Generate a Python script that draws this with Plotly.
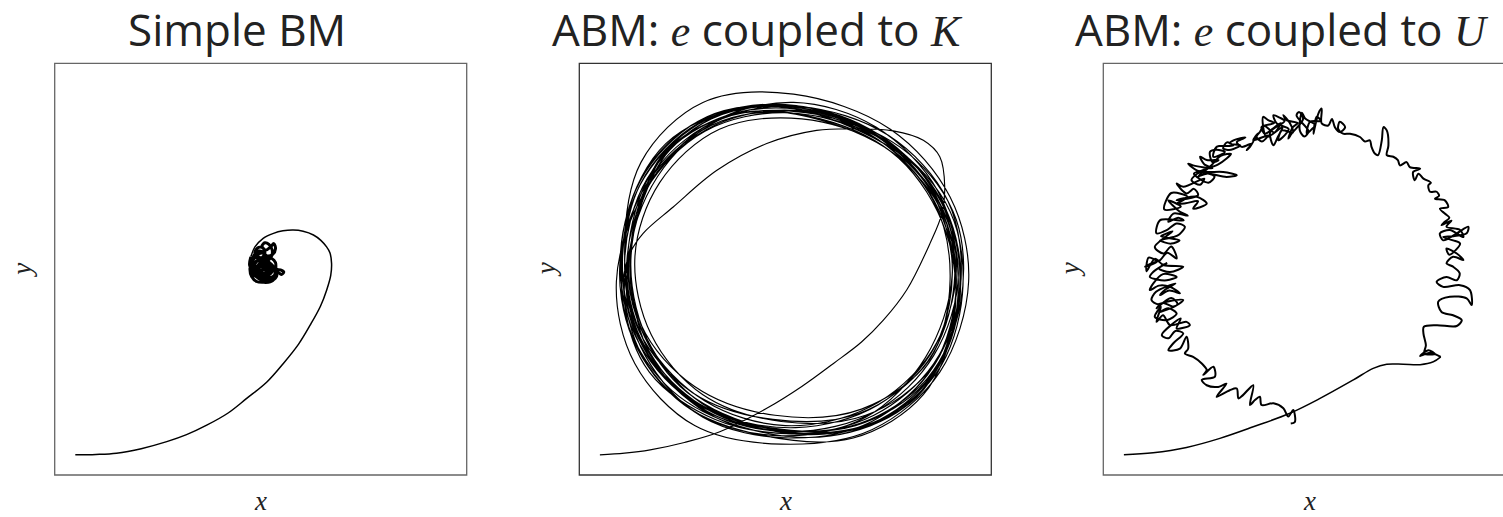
import plotly.graph_objects as go

# ---------------------------------------------------------------------------
# Trajectories (x, y) in arbitrary position units, box spans 0..100
# ---------------------------------------------------------------------------

# Simple Brownian motion: ballistic spiral settling into a diffusive blob
bm_spiral = [
    (5.0, 4.9), (10.0, 5.0), (15.0, 5.3), (21.0, 6.4), (27.2, 8.1), (32.0, 9.8),
    (36.9, 12.1), (42.0, 15.0), (46.6, 18.6), (51.5, 22.6), (55.5, 27.1),
    (59.2, 31.8), (62.0, 36.4), (64.5, 41.0), (66.0, 44.9), (67.0, 48.5),
    (67.2, 51.4), (66.8, 54.0), (66.0, 55.4), (64.6, 57.0), (62.8, 58.3),
    (60.3, 59.2), (57.9, 59.5), (55.4, 59.3), (53.1, 58.7), (50.6, 57.5),
    (48.6, 55.4), (47.6, 53.0),
]
bm_blob = [
    (47.6, 53.0), (47.3, 51.0), (48.2, 49.0), (49.8, 48.0), (51.5, 48.3), (52.6, 49.6),
    (52.2, 51.4), (50.6, 52.3), (49.0, 51.8), (48.3, 50.2), (49.1, 48.6), (50.8, 47.6),
    (52.4, 47.5), (53.4, 48.6), (53.2, 50.4), (51.8, 51.9), (50.0, 52.8), (48.3, 52.6),
    (47.5, 51.3), (47.9, 49.3), (49.4, 47.8), (51.0, 47.2), (52.0, 48.4), (51.2, 50.0),
    (49.7, 50.4), (48.8, 49.4), (49.6, 48.2), (51.2, 48.8), (51.6, 50.6), (50.5, 51.5),
    (49.0, 52.8), (48.6, 54.2), (49.5, 55.3), (50.7, 55.0), (51.0, 53.6), (50.2, 52.6),
    (51.3, 52.0), (52.5, 52.9), (52.8, 54.6), (52.0, 56.0), (51.0, 56.4), (50.3, 55.6),
    (51.2, 54.6), (52.3, 55.3), (53.2, 56.2), (53.6, 55.0), (52.9, 53.6), (51.6, 53.2),
    (50.3, 53.9), (49.2, 53.4), (48.0, 52.0), (47.4, 50.2), (47.8, 48.2), (49.0, 47.0),
    (50.6, 46.8), (52.3, 46.9), (53.5, 47.8), (54.0, 49.3), (55.0, 48.7), (55.6, 49.3),
    (54.8, 49.8), (53.8, 50.0), (53.6, 51.6), (52.7, 52.6), (51.4, 52.8), (50.0, 51.8),
    (49.3, 50.6), (49.8, 49.4), (50.9, 49.0), (51.9, 49.8), (51.4, 51.0), (50.2, 50.9),
    (49.5, 49.8), (50.3, 48.9), (51.8, 48.0), (53.0, 48.2), (53.6, 49.3), (52.8, 50.6),
    (51.5, 51.3), (50.0, 51.0), (48.7, 50.7), (47.9, 51.8), (48.4, 53.4), (49.6, 54.4),
    (50.8, 54.0), (50.6, 52.9), (49.6, 52.4), (48.6, 51.2), (48.9, 49.6), (50.1, 48.4),
    (51.6, 47.6), (53.0, 47.4), (53.9, 48.4), (53.4, 49.8), (52.2, 50.4), (51.0, 50.2),
    (50.0, 49.6), (49.4, 50.6), (50.2, 51.6), (51.6, 51.8), (52.4, 50.9), (51.9, 49.2),
    (50.4, 48.2), (48.9, 48.2), (48.0, 49.6), (48.2, 51.3), (49.4, 52.0), (50.8, 51.2),
    (50.7, 50.0), (49.7, 49.2), (49.0, 50.3), (49.9, 51.0), (51.0, 49.8), (52.3, 48.9),
    (52.9, 49.9), (52.0, 51.0), (50.4, 50.3),
]

# Active BM, e coupled to kinetic energy: approach, then many laps of a ring
abm_k_path = [
    (5.0, 4.9), (11.0, 5.3), (17.2, 6.1), (25.5, 7.9), (34.1, 10.5),
    (45.5, 16.2), (54.0, 21.5), (61.7, 27.1), (68.5, 32.3), (73.8, 37.6),
    (79.5, 45.0), (85.1, 56.2), (88.0, 63.5), (88.7, 70.0), (87.5, 77.3),
    (83.5, 81.3), (76.2, 83.6), (66.5, 84.1), (57.6, 83.7), (45.5, 80.5),
    (33.4, 74.0), (22.8, 65.1), (15.5, 58.7), (12.3, 53.8),
    (10.7, 46.5), (15.5, 28.5), (29.5, 14.5), (49.5, 9.5), (69.5, 14.0), (84.0, 28.5),
    (90.5, 48.5), (86.5, 68.0), (73.0, 82.5), (53.0, 89.5), (33.5, 86.0), (19.0, 72.5),
    (12.0, 52.0), (16.5, 32.5), (30.5, 18.0), (50.0, 12.0), (70.5, 16.5), (85.5, 30.0),
    (91.5, 49.5), (87.0, 69.0), (72.0, 84.5), (52.0, 90.5), (32.0, 85.5), (17.0, 70.5),
    (11.5, 50.0), (17.0, 30.0), (31.0, 15.5), (51.5, 10.5), (72.0, 15.5), (86.0, 29.0),
    (92.0, 49.0), (86.5, 67.5), (71.5, 82.0), (50.5, 88.0), (30.5, 83.5), (16.0, 69.0),
    (9.0, 47.0), (13.5, 27.0), (28.0, 12.0), (49.0, 7.5), (71.0, 11.0), (87.5, 25.0),
    (94.5, 47.0), (90.0, 67.5), (75.5, 84.0), (52.0, 92.5), (30.0, 90.5), (15.0, 76.0),
    (11.0, 54.0), (14.5, 35.0), (27.5, 20.0), (47.0, 13.5), (68.0, 15.0), (84.5, 27.5),
    (91.0, 46.5), (88.0, 66.0), (74.5, 81.0), (55.0, 88.0), (34.5, 86.5), (18.5, 74.0),
    (12.5, 55.5), (15.0, 36.5), (28.0, 21.5), (47.5, 14.5), (68.5, 16.0), (85.0, 28.0),
    (90.0, 47.5), (86.0, 66.5), (72.5, 81.5), (53.0, 88.5), (33.0, 85.0), (17.5, 71.5),
    (12.5, 51.0), (17.5, 31.0), (32.0, 16.0), (52.5, 11.5), (72.5, 17.0), (86.5, 31.5),
    (90.5, 51.5), (84.5, 70.5), (69.0, 84.5), (48.5, 90.0), (28.5, 85.0), (14.5, 70.0),
    (10.5, 49.5), (16.0, 29.0), (30.0, 14.0), (51.0, 9.0), (71.0, 13.0), (86.0, 26.5),
    (91.5, 46.0), (87.5, 65.0), (73.5, 80.0), (54.0, 86.5), (34.0, 84.0), (19.5, 71.0),
    (13.5, 53.0), (17.5, 34.0), (30.0, 19.5), (49.0, 13.0), (69.5, 14.5), (85.5, 26.0),
    (92.5, 45.5), (89.5, 66.5), (75.0, 82.5), (53.5, 89.5), (32.0, 86.5), (16.5, 72.0),
    (11.0, 51.5), (15.5, 31.5), (29.0, 16.5), (49.0, 10.5), (70.0, 12.0), (86.5, 24.5),
    (93.0, 44.0), (90.0, 64.0), (76.0, 80.0), (55.5, 87.5), (34.5, 86.0), (18.0, 73.0),
    (10.0, 53.0), (13.0, 33.0), (25.5, 17.0), (45.0, 9.5), (66.5, 9.0), (83.5, 19.5),
    (91.0, 38.0), (89.0, 59.0), (77.5, 77.0), (58.5, 86.5), (37.0, 87.5), (19.5, 76.5),
    (12.0, 56.0), (14.0, 38.0), (24.5, 21.5), (43.0, 12.0), (64.0, 10.5), (82.0, 19.0),
    (90.5, 36.5), (90.0, 57.0), (80.0, 75.0), (61.0, 85.5), (40.0, 88.0), (21.5, 79.0),
    (13.0, 58.0), (12.0, 40.0), (21.0, 23.5), (38.5, 13.0), (60.0, 10.0), (79.5, 17.0),
    (90.0, 33.5), (92.0, 53.5), (84.0, 72.5), (66.0, 84.5), (45.0, 89.5), (25.5, 83.0),
    (14.5, 64.0), (12.8, 45.0), (18.5, 27.0), (33.0, 14.0), (52.0, 10.0), (71.5, 14.5),
    (86.0, 27.0), (92.5, 45.0), (89.0, 64.5), (76.0, 80.0), (57.0, 88.5), (36.0, 88.5),
    (20.0, 77.5), (13.5, 60.0), (11.0, 42.0), (17.0, 25.0), (33.0, 13.5), (53.0, 10.0),
    (73.0, 13.5), (87.5, 27.0), (92.0, 47.0), (87.0, 67.0), (71.0, 83.0), (50.0, 90.0),
    (29.0, 86.0), (15.5, 73.0), (10.5, 55.0), (12.0, 36.0), (22.5, 20.5), (40.0, 11.5),
    (61.0, 9.5), (79.0, 16.5), (89.5, 31.0), (92.5, 50.0), (86.5, 69.0), (70.5, 84.0),
    (49.0, 90.0), (29.0, 85.5), (15.0, 71.0), (11.0, 52.0), (15.0, 33.0), (28.0, 18.0),
    (48.0, 11.0), (68.0, 12.5), (84.5, 23.5), (92.5, 41.5), (91.5, 62.0), (80.0, 78.0),
    (60.0, 87.5), (39.0, 89.0), (21.0, 80.5), (11.5, 63.0), (11.0, 44.0), (19.0, 26.0),
    (35.0, 14.0), (55.0, 10.5), (74.0, 15.0), (87.5, 29.0), (91.5, 48.0), (86.5, 67.0),
    (72.0, 82.5), (51.5, 89.5), (31.0, 87.0), (16.0, 73.5), (10.0, 54.0), (13.5, 34.0),
    (26.5, 18.5), (46.0, 11.5), (67.0, 12.0), (84.0, 22.5), (92.0, 40.5), (90.0, 61.5),
    (78.0, 78.5), (58.0, 88.0), (38.0, 88.0), (22.0, 79.0), (14.0, 63.0),
]

# Active BM, e coupled to potential energy: smooth approach, rough ring
abm_u_tail = [
    (5.0, 4.9), (12.1, 5.4), (20.2, 6.7), (28.3, 8.9), (36.4, 11.7), (45.3, 15.0),
    (52.6, 18.6), (60.7, 23.1), (65.5, 25.9), (68.8, 26.9), (72.8, 26.9),
    (76.9, 26.8), (80.1, 27.5), (81.9, 28.7),
]
abm_u_ring = [
    # right flank, climbing
    (81.9, 28.7), (79.3, 29.7), (76.9, 28.9), (78.9, 30.3), (80.5, 29.4), (77.9, 29.5),
    (78.3, 31.5), (77.7, 34.4), (77.8, 36.0), (80.9, 36.4), (85.8, 36.2), (87.0, 37.6),
    (84.9, 38.8), (82.1, 39.6), (81.3, 42.1), (84.1, 43.3), (88.2, 42.9), (89.4, 41.3),
    (89.0, 44.9), (86.6, 46.1), (82.5, 45.7), (80.9, 46.9), (83.3, 48.1), (85.8, 47.3),
    (86.5, 49.0), (84.9, 50.6), (83.3, 51.4), (84.9, 53.0), (87.4, 52.2), (85.8, 53.8),
    (83.3, 55.0), (84.0, 53.5), (86.6, 56.2), (84.9, 57.0), (82.5, 57.8), (85.0, 58.0),
    (88.2, 58.7), (88.6, 60.3), (85.8, 58.7), (82.5, 57.0), (81.7, 58.7), (84.1, 59.5),
    (87.4, 57.8), (86.6, 59.5), (83.3, 60.3), (84.5, 61.8), (82.1, 60.7), (82.9, 61.5),
    (84.0, 62.5), (82.9, 63.5), (81.7, 64.7), (83.7, 65.1), (82.9, 66.7), (80.5, 67.1),
    (81.5, 67.8), (80.9, 68.8), (79.3, 68.8), (78.9, 70.4), (79.5, 71.0), (77.7, 72.0),
    (76.5, 73.2), (75.6, 71.6), (75.2, 73.6), (76.9, 74.4), (74.4, 74.8), (73.6, 76.0),
    (72.0, 75.2), (71.5, 76.5), (70.4, 77.3), (68.8, 77.7), (69.2, 80.0), (68.8, 83.7),
    (68.0, 84.5), (67.6, 81.3), (66.7, 77.7), (65.9, 78.1), (65.1, 79.7), (64.7, 81.3),
    (63.5, 81.0), (62.3, 82.1), (59.9, 82.9), (58.2, 82.9),
    # crest, densely tangled
    (57.0, 84.1), (57.4, 85.8), (58.7, 84.5), (57.4, 83.3), (56.2, 84.5), (55.5, 86.5),
    (54.6, 84.9), (53.0, 85.4), (53.0, 89.0), (52.2, 87.8), (51.0, 82.9), (51.8, 87.0),
    (52.8, 86.0), (50.2, 85.8), (49.4, 82.9), (50.6, 84.0), (51.5, 85.0), (49.0, 86.6),
    (48.2, 88.0), (47.7, 83.7), (48.8, 82.2), (49.8, 83.5), (46.9, 87.3), (47.5, 88.2),
    (48.5, 86.5), (45.7, 82.9), (44.9, 81.7), (46.0, 84.5), (47.2, 85.5), (44.5, 86.2),
    (43.7, 87.4), (45.2, 85.6), (46.0, 83.2), (43.3, 83.7), (42.5, 81.3), (44.0, 82.5),
    (45.0, 84.0), (42.1, 85.4), (41.3, 87.4), (42.8, 86.8), (44.0, 86.0), (40.5, 83.3),
    (41.3, 80.1), (42.3, 82.0), (43.5, 84.5), (39.6, 82.1), (38.8, 87.0), (40.0, 86.2),
    (41.5, 85.5), (38.4, 84.5), (39.2, 82.9), (41.0, 84.0), (43.0, 85.5), (41.5, 83.2),
    (39.0, 84.8), (38.0, 83.3), (37.2, 82.1), (38.5, 81.0), (40.0, 82.5), (36.4, 81.3),
    (37.5, 83.0), (35.6, 79.7), (34.8, 78.9), (36.0, 80.5), (33.6, 79.7), (32.4, 80.9),
    (33.5, 81.5), (34.5, 82.0), (31.6, 81.3), (30.7, 80.5), (33.2, 80.1), (31.0, 79.0),
    (29.1, 79.3), (30.0, 80.8), (31.5, 80.0), (27.5, 79.7), (26.7, 77.3), (28.3, 77.7),
    (29.5, 78.5), (27.5, 79.0), (25.9, 78.5), (26.5, 76.0), (28.0, 76.5), (25.1, 76.5),
    (23.5, 77.3), (24.5, 75.5), (26.5, 74.5), (21.8, 75.2), (20.6, 75.6), (22.7, 74.0),
    (25.1, 73.6), (29.1, 73.6), (32.4, 72.8), (29.9, 72.4), (25.1, 73.2), (23.0, 72.5),
    (26.0, 75.0), (28.5, 77.5), (31.0, 78.0), (28.0, 75.5), (24.0, 74.0), (22.0, 73.2),
    (25.5, 71.0), (27.0, 72.5), (23.5, 73.5),
    # left flank, descending
    (21.4, 71.6), (23.5, 70.5), (24.5, 72.0), (19.4, 70.0), (17.8, 70.8), (20.2, 68.4),
    (22.0, 69.5), (23.0, 68.0), (17.8, 66.7), (19.5, 67.2), (22.7, 67.6), (25.1, 65.9),
    (21.8, 64.7), (23.0, 66.5), (20.0, 66.0), (17.8, 65.9), (20.5, 67.5), (16.5, 68.5),
    (14.8, 64.5), (18.8, 65.2), (15.8, 66.7), (18.5, 64.0),
    (20.5, 63.0), (17.0, 63.5), (15.8, 61.5), (18.2, 62.5), (19.5, 61.8), (13.8, 61.9),
    (12.9, 58.7), (15.4, 59.5), (17.8, 61.1), (19.8, 60.3), (18.5, 58.5), (17.0, 57.8),
    (13.8, 57.0), (16.5, 56.2), (18.5, 57.0), (14.0, 58.0), (15.0, 58.5), (16.8, 59.2),
    (12.5, 55.4), (14.6, 53.8), (16.5, 55.5),
    (17.8, 52.6), (15.5, 54.0), (13.8, 52.2), (11.7, 51.4), (10.1, 50.6), (13.0, 51.8),
    (11.0, 52.8), (10.5, 49.5), (12.5, 52.5),
    (14.6, 51.0), (19.4, 50.6), (16.2, 49.3), (13.5, 50.2), (15.5, 51.5), (12.1, 49.3),
    (11.3, 48.1), (13.0, 47.5), (15.4, 47.3), (17.8, 48.1), (14.5, 48.8), (12.1, 46.5),
    (11.3, 44.9), (13.5, 46.0), (16.2, 45.7), (18.6, 44.1), (16.0, 44.8), (13.8, 43.7),
    (15.0, 45.0), (17.5, 46.5), (12.8, 44.5), (11.7, 42.5), (13.2, 41.5), (15.4, 42.1),
    (19.4, 42.5), (17.0, 40.9), (14.5, 41.8), (12.9, 40.5), (16.5, 43.0), (18.0, 41.5),
    (13.8, 39.6), (15.8, 40.5), (17.8, 39.2), (15.4, 37.6), (12.5, 38.4), (14.0, 40.8),
    (12.9, 37.2), (14.5, 38.8), (16.2, 36.4), (20.2, 37.2), (21.0, 36.4), (17.8, 35.6),
    (18.8, 38.0), (14.2, 34.0), (15.8, 33.2), (17.5, 35.0), (19.4, 34.4), (17.0, 32.0),
    (15.8, 30.3), (18.6, 30.7), (20.2, 33.6), (20.6, 30.7), (19.8, 29.5), (21.8, 28.7),
    # lower left, thinning out
    (23.9, 27.1), (25.1, 25.5), (24.3, 24.3), (26.7, 26.3), (27.1, 23.9), (23.9, 23.1),
    (25.1, 21.8), (27.9, 21.4), (29.9, 22.2), (27.5, 19.0), (30.7, 20.6), (32.4, 21.0),
    (32.8, 18.6), (33.9, 19.4), (36.4, 21.8), (35.6, 17.0), (36.8, 18.2), (38.0, 19.0),
    (38.4, 17.0), (41.3, 17.4), (43.7, 16.2), (44.9, 14.2), (46.1, 15.8), (46.5, 12.9),
    (45.5, 12.5),
]

panel_titles = [
    "Simple BM",
    "ABM: <span style='font-family:Liberation Serif'><i>e</i></span> coupled to "
    "<span style='font-family:Liberation Serif'><i>K</i></span>",
    "ABM: <span style='font-family:Liberation Serif'><i>e</i></span> coupled to "
    "<span style='font-family:Liberation Serif'><i>U</i></span>",
]

# ---------------------------------------------------------------------------
# Layout geometry (pixels of the 1503 x 517 canvas)
# ---------------------------------------------------------------------------
W, H = 1503, 517
BOX = 412.0                       # side of each square panel
LEFTS = [54.7, 579.3, 1103.3]     # left edge of each panel
TOP, BOTTOM = 63.3, 475.0
TITLE_X = [236.7, 757.5, 1281.7]

def px(x):
    return x / W

def py(y):
    return 1 - y / H

def xy(points):
    return [p[0] for p in points], [p[1] for p in points]

fig = go.Figure()

line_black = "#000000"

x, y = xy(bm_spiral)
fig.add_trace(go.Scatter(x=x, y=y, mode="lines", xaxis="x", yaxis="y",
                         line=dict(color=line_black, width=1.5, shape="spline")))
x, y = xy(bm_blob)
fig.add_trace(go.Scatter(x=x, y=y, mode="lines", xaxis="x", yaxis="y",
                         line=dict(color=line_black, width=3.0, shape="spline", smoothing=0.9)))

x, y = xy(abm_k_path)
fig.add_trace(go.Scatter(x=x, y=y, mode="lines", xaxis="x2", yaxis="y2",
                         line=dict(color=line_black, width=1.15, shape="spline", smoothing=1.0)))

x, y = xy(abm_u_tail)
fig.add_trace(go.Scatter(x=x, y=y, mode="lines", xaxis="x3", yaxis="y3",
                         line=dict(color=line_black, width=1.5, shape="spline")))
x, y = xy(abm_u_ring)
fig.add_trace(go.Scatter(x=x, y=y, mode="lines", xaxis="x3", yaxis="y3",
                         line=dict(color=line_black, width=2.0, shape="spline", smoothing=0.9)))

ydom = [py(BOTTOM), py(TOP)]
axis_common = dict(showgrid=False, zeroline=False, showticklabels=False,
                   ticks="", showline=False, fixedrange=True)

layout = dict(
    width=W, height=H,
    margin=dict(l=0, r=0, t=0, b=0),
    paper_bgcolor="white", plot_bgcolor="white",
    showlegend=False,
)
for i, left in enumerate(LEFTS):
    sfx = "" if i == 0 else str(i + 1)
    right = min(left + BOX, W)
    xmax = 100.0 * (right - left) / BOX
    layout["xaxis" + sfx] = dict(axis_common, domain=[px(left), px(right)],
                                 range=[0, xmax],
                                 anchor="y" + sfx)
    layout["yaxis" + sfx] = dict(axis_common, domain=ydom, range=[0, 100],
                                 anchor="x" + sfx)
fig.update_layout(**layout)

# Frames around each panel (the last one runs past the canvas edge)
frame_colors = ["#666666", "#333333", "#666666"]
for left, col in zip(LEFTS, frame_colors):
    fig.add_shape(type="rect", xref="paper", yref="paper",
                  x0=px(left), x1=px(left + BOX), y0=py(BOTTOM), y1=py(TOP),
                  line=dict(color=col, width=1.3), fillcolor="rgba(0,0,0,0)",
                  layer="above")

# Titles and axis labels
for tx, title in zip(TITLE_X, panel_titles):
    fig.add_annotation(x=px(tx), y=py(29), xref="paper", yref="paper",
                       text=title, showarrow=False, xanchor="center", yanchor="middle",
                       font=dict(family="Open Sans", size=44, color="#222222"))
for left in LEFTS:
    fig.add_annotation(x=px(left + BOX / 2), y=0, xref="paper", yref="paper",
                       text="<i>x</i>", showarrow=False, xanchor="center", yanchor="bottom",
                       borderpad=0,
                       font=dict(family="Liberation Serif", size=27, color="#222222"))
    fig.add_annotation(x=px(left - 33), y=py(270), xref="paper", yref="paper",
                       text="<i>y</i>", showarrow=False, xanchor="center", yanchor="middle",
                       textangle=-90,
                       font=dict(family="Liberation Serif", size=27, color="#222222"))

fig.write_html("out.html")
